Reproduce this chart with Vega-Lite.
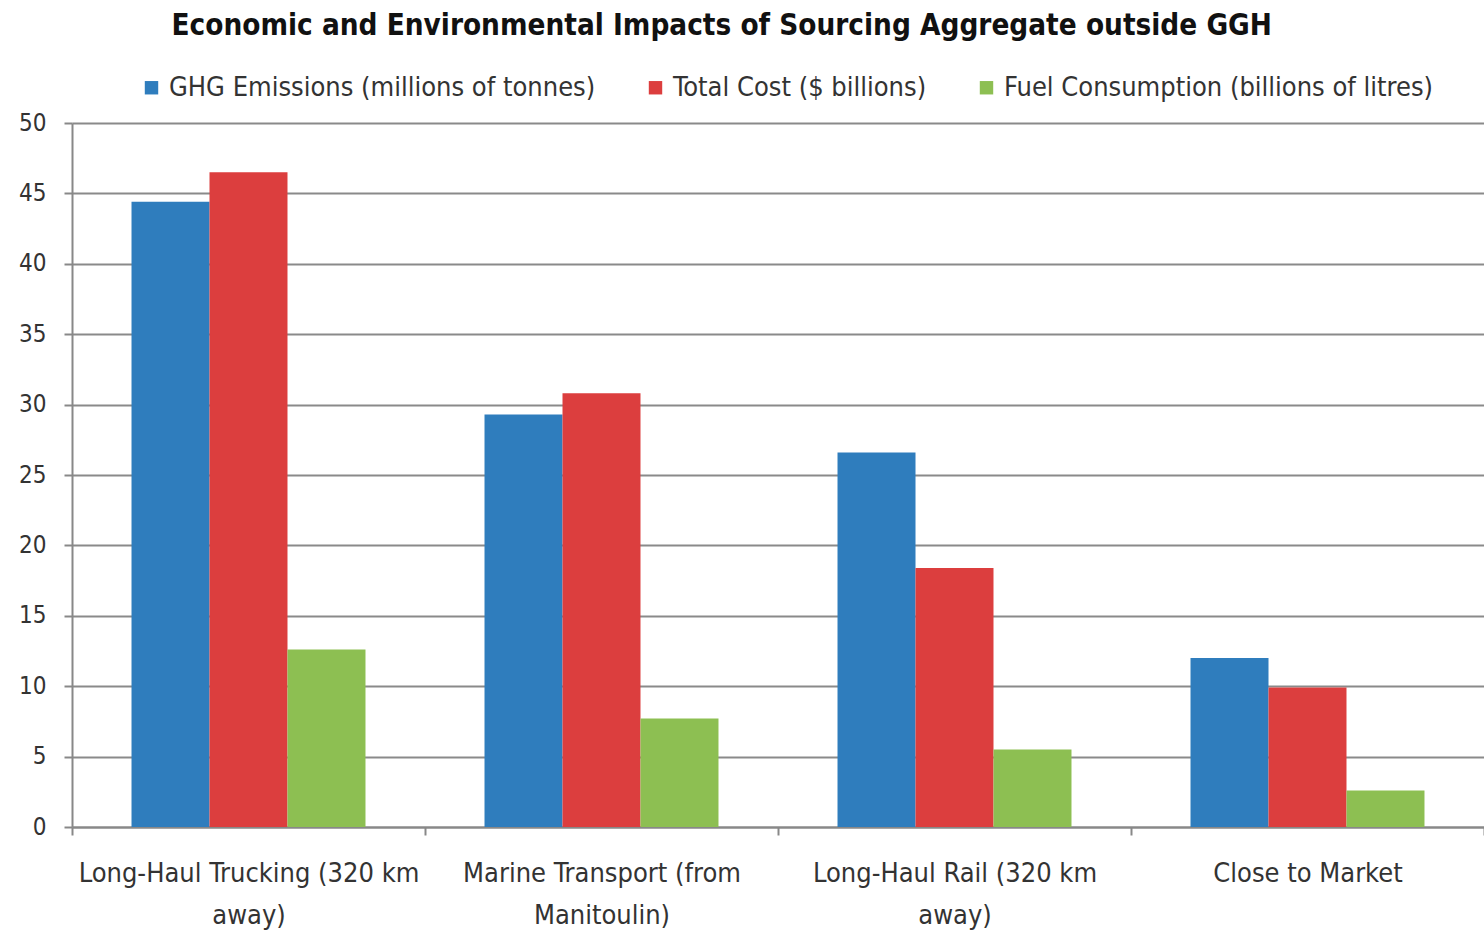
{
  "$schema": "https://vega.github.io/schema/vega-lite/v6.json",
  "width": 1412,
  "height": 704,
  "autosize": {"type": "none"},
  "padding": {"left": 72, "top": 123, "right": 0, "bottom": 110},
  "background": "white",
  "config": {
    "view": {"stroke": null},
    "font": "DejaVu Sans Condensed"
  },
  "title": {
    "text": "Economic and Environmental Impacts of Sourcing Aggregate outside GGH",
    "font": "DejaVu Sans Condensed",
    "fontSize": 29.4,
    "fontWeight": "bold",
    "color": "#111111",
    "anchor": "start",
    "dx": 153,
    "offset": 33
  },
  "data": {
    "values": [
      {"category": "Long-Haul Trucking (320 km away)", "series": "GHG Emissions (millions of tonnes)", "value": 44.4},
      {"category": "Long-Haul Trucking (320 km away)", "series": "Total Cost ($ billions)", "value": 46.5},
      {"category": "Long-Haul Trucking (320 km away)", "series": "Fuel Consumption (billions of litres)", "value": 12.6},
      {"category": "Marine Transport (from Manitoulin)", "series": "GHG Emissions (millions of tonnes)", "value": 29.3},
      {"category": "Marine Transport (from Manitoulin)", "series": "Total Cost ($ billions)", "value": 30.8},
      {"category": "Marine Transport (from Manitoulin)", "series": "Fuel Consumption (billions of litres)", "value": 7.7},
      {"category": "Long-Haul Rail (320 km away)", "series": "GHG Emissions (millions of tonnes)", "value": 26.6},
      {"category": "Long-Haul Rail (320 km away)", "series": "Total Cost ($ billions)", "value": 18.4},
      {"category": "Long-Haul Rail (320 km away)", "series": "Fuel Consumption (billions of litres)", "value": 5.5},
      {"category": "Close to Market", "series": "GHG Emissions (millions of tonnes)", "value": 12.0},
      {"category": "Close to Market", "series": "Total Cost ($ billions)", "value": 9.9},
      {"category": "Close to Market", "series": "Fuel Consumption (billions of litres)", "value": 2.6}
    ]
  },
  "mark": {"type": "bar"},
  "encoding": {
    "x": {
      "field": "category",
      "type": "nominal",
      "sort": null,
      "scale": {"paddingInner": 0, "paddingOuter": 0},
      "axis": {
        "title": null,
        "labelAngle": 0,
        "labelFontSize": 27,
        "labelColor": "#333333",
        "labelPadding": 25,
        "labelLineHeight": 42,
        "labelLimit": 500,
        "tickBand": "extent",
        "tickSize": 8,
        "tickColor": "#888888",
        "tickWidth": 2,
        "domainColor": "#888888",
        "domainWidth": 2,
        "labelExpr": "datum.label == 'Long-Haul Trucking (320 km away)' ? ['Long-Haul Trucking (320 km', 'away)'] : datum.label == 'Marine Transport (from Manitoulin)' ? ['Marine Transport (from', 'Manitoulin)'] : datum.label == 'Long-Haul Rail (320 km away)' ? ['Long-Haul Rail (320 km', 'away)'] : datum.label"
      }
    },
    "xOffset": {
      "field": "series",
      "type": "nominal",
      "sort": ["GHG Emissions (millions of tonnes)", "Total Cost ($ billions)", "Fuel Consumption (billions of litres)"],
      "scale": {"paddingInner": 0, "paddingOuter": 0.763}
    },
    "y": {
      "field": "value",
      "type": "quantitative",
      "scale": {"domain": [0, 50]},
      "axis": {
        "title": null,
        "values": [0, 5, 10, 15, 20, 25, 30, 35, 40, 45, 50],
        "labelFontSize": 24,
        "labelColor": "#333333",
        "labelPadding": 18,
        "tickSize": 8,
        "tickColor": "#888888",
        "tickWidth": 2,
        "domainColor": "#888888",
        "domainWidth": 2,
        "grid": true,
        "gridColor": "#8a8a8a",
        "gridWidth": 2
      }
    },
    "color": {
      "field": "series",
      "type": "nominal",
      "sort": ["GHG Emissions (millions of tonnes)", "Total Cost ($ billions)", "Fuel Consumption (billions of litres)"],
      "scale": {
        "domain": ["GHG Emissions (millions of tonnes)", "Total Cost ($ billions)", "Fuel Consumption (billions of litres)"],
        "range": ["#2f7dbd", "#dc3e3e", "#8dbf52"]
      },
      "legend": {
        "title": null,
        "orient": "none",
        "legendX": 66,
        "legendY": -49,
        "direction": "horizontal",
        "symbolType": "square",
        "symbolSize": 180,
        "symbolStrokeWidth": 0,
        "labelFontSize": 27,
        "labelColor": "#333333",
        "labelLimit": 600,
        "labelOffset": 4,
        "columnPadding": 46
      }
    }
  }
}
